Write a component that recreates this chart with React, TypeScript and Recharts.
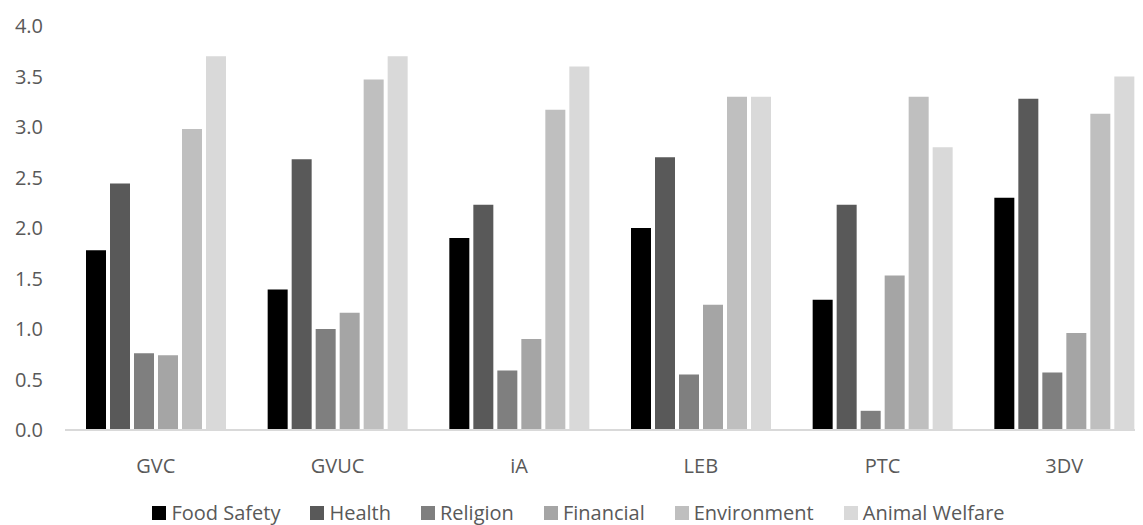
import { BarChart, Bar, XAxis, YAxis, Legend } from "recharts"

const categories = ["GVC", "GVUC", "iA", "LEB", "PTC", "3DV"]
const foodSafety = [1.78, 1.39, 1.9, 2.0, 1.29, 2.3]
const health = [2.44, 2.68, 2.23, 2.7, 2.23, 3.28]
const religion = [0.76, 1.0, 0.59, 0.55, 0.19, 0.57]
const financial = [0.74, 1.16, 0.9, 1.24, 1.53, 0.96]
const environment = [2.98, 3.47, 3.17, 3.3, 3.3, 3.13]
const animalWelfare = [3.7, 3.7, 3.6, 3.3, 2.8, 3.5]
const yTicks = [0, 0.5, 1, 1.5, 2, 2.5, 3, 3.5, 4]

const series = [
  { key: "foodSafety", name: "Food Safety", color: "#000000" },
  { key: "health", name: "Health", color: "#595959" },
  { key: "religion", name: "Religion", color: "#7f7f7f" },
  { key: "financial", name: "Financial", color: "#a5a5a5" },
  { key: "environment", name: "Environment", color: "#bfbfbf" },
  { key: "animalWelfare", name: "Animal Welfare", color: "#d9d9d9" },
]

const data = categories.map((name, i) => ({
  name,
  foodSafety: foodSafety[i],
  health: health[i],
  religion: religion[i],
  financial: financial[i],
  environment: environment[i],
  animalWelfare: animalWelfare[i],
}))

const font = "'Open Sans', sans-serif"

// legend drawn in series order (Excel style), not sorted
const LegendContent = () => (
  <div style={{ display: "flex", justifyContent: "center", alignItems: "center", gap: 30 }}>
    {series.map((s) => (
      <div key={s.key} style={{ display: "flex", alignItems: "center" }}>
        <span style={{ display: "inline-block", width: 14, height: 14, background: s.color, marginRight: 5 }} />
        <span style={{ color: "#595959", fontSize: 20, fontFamily: font, lineHeight: "22px" }}>{s.name}</span>
      </div>
    ))}
  </div>
)

export default function App() {
  return (
    <div style={{ marginLeft: -8, marginTop: -8, width: 1143, height: 525, overflow: "hidden", fontFamily: font }}>
      <BarChart
        width={1155}
        height={525}
        data={data}
        margin={{ top: 26, right: 0, left: 0, bottom: 0 }}
        barCategoryGap={21}
        barGap={4}
      >
        <XAxis
          dataKey="name"
          axisLine={{ stroke: "#d9d9d9", strokeWidth: 2 }}
          tickLine={false}
          tickSize={0}
          tickMargin={29}
          height={73}
          tick={{ fill: "#595959", fontSize: 20, fontFamily: font }}
        />
        <YAxis
          domain={[0, 4]}
          ticks={yTicks}
          interval={0}
          axisLine={false}
          tickLine={false}
          tickSize={0}
          tickMargin={22}
          width={65}
          tickFormatter={(v: number) => v.toFixed(1)}
          tick={{ fill: "#595959", fontSize: 20, fontFamily: font }}
        />
        <Legend
          content={LegendContent}
          wrapperStyle={{ position: "absolute", top: 502, left: 7, width: 1143, height: 22 }}
        />
        {series.map((s) => (
          <Bar key={s.key} dataKey={s.key} name={s.name} fill={s.color} isAnimationActive={false} />
        ))}
      </BarChart>
    </div>
  )
}
